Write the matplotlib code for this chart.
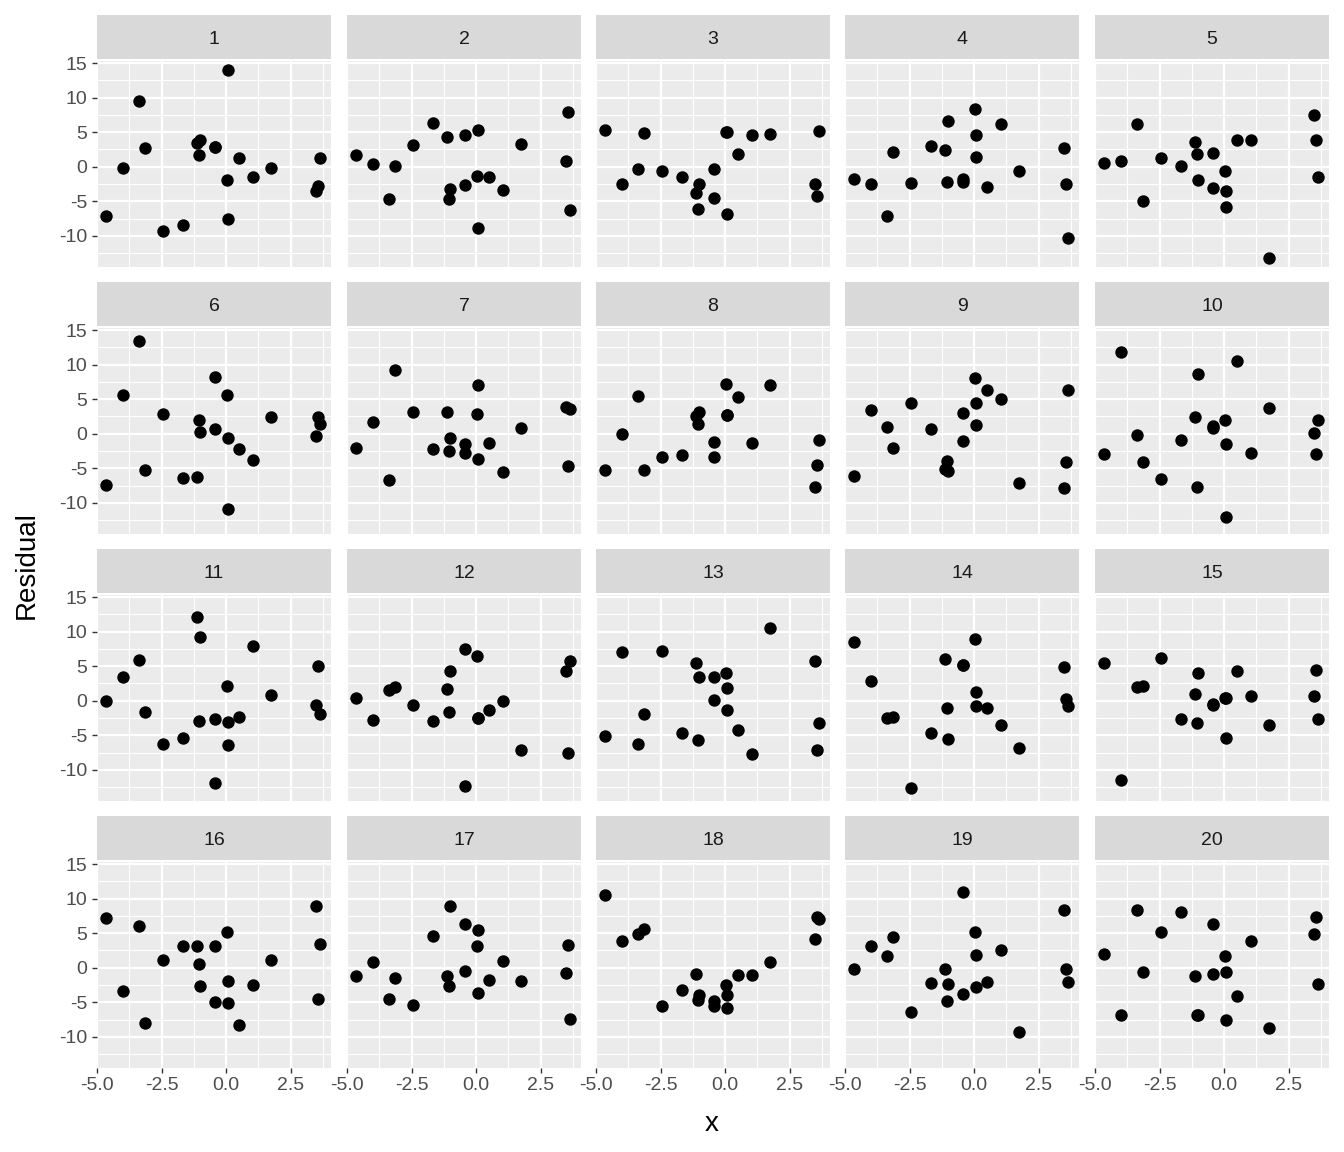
import matplotlib
matplotlib.use("Agg")
import matplotlib.pyplot as plt
import numpy as np

plt.rcParams['font.family'] = ['Liberation Sans', 'DejaVu Sans']

# shared x values (same for every panel)
x = [-4.65, -3.98, -3.36, -3.15, -2.45, -1.67, -1.11, -1.07, -1.0, -0.44,
     -0.42, 0.04, 0.06, 0.09, 0.5, 1.04, 1.73, 3.47, 3.57, 3.64]

# residuals for each panel, in the order of x
resid = [
    [-7.16, -0.14, 9.57, 2.74, -9.23, -8.46, 3.51, 1.63, 3.85, 2.93, 2.93, -1.92, -7.55, 13.99, 1.20, -1.54, -0.24, -3.46, -2.74, 1.20],
    [1.73, 0.34, -4.62, 0.10, 3.22, 6.35, 4.28, -4.62, -3.27, 4.66, -2.64, -1.39, 5.29, -8.89, -1.54, -3.41, 3.27, 0.87, 7.98, -6.30],
    [5.38, -2.55, -0.29, 4.95, -0.67, -1.49, -3.75, -6.06, -2.45, -0.34, -4.47, 5.05, 5.05, -6.88, 1.88, 4.62, 4.76, -2.55, -4.18, 5.19],
    [-1.83, -2.55, -7.16, 2.12, -2.36, 3.03, 2.40, -2.21, 6.63, -1.73, -2.16, 8.41, 4.62, 1.39, -2.98, 6.25, -0.67, 2.74, -2.50, -10.29],
    [0.48, 0.82, 6.20, -4.95, 1.25, 0.10, 3.65, 1.88, -1.92, 2.02, -3.13, -0.58, -3.46, -5.77, 3.80, 3.80, -13.13, 7.55, 3.94, -1.49],
    [-7.45, 5.63, 13.37, -5.29, 2.88, -6.44, -6.25, 1.92, 0.19, 8.22, 0.72, 5.58, -0.67, -10.87, -2.26, -3.80, 2.40, -0.38, 2.45, 1.35],
    [-2.02, 1.68, -6.63, 9.18, 3.13, -2.21, 3.13, -2.55, -0.67, -1.44, -2.84, 2.79, 7.02, -3.61, -1.30, -5.48, 0.77, 3.89, -4.66, 3.61],
    [-5.29, -0.05, 5.48, -5.19, -3.32, -3.13, 2.55, 1.35, 3.08, -1.20, -3.37, 7.21, 2.69, 2.69, 5.29, -1.35, 7.02, -7.74, -4.47, -0.87],
    [-6.15, 3.37, 1.01, -2.07, 4.38, 0.63, -5.05, -3.94, -5.43, 3.03, -1.01, 8.13, 4.38, 1.20, 6.35, 5.10, -7.07, -7.84, -4.04, 6.30],
    [-2.93, 11.88, -0.24, -4.13, -6.54, -0.87, 2.36, -7.69, 8.61, 0.80, 1.10, 1.97, -1.49, -12.07, 10.58, -2.79, 3.75, 0.05, -2.93, 1.97],
    [0.0, 3.37, 5.87, -1.63, -6.20, -5.34, 12.16, -2.88, 9.18, -2.60, -11.83, 2.07, -3.13, -6.39, -2.36, 7.93, 0.77, -0.67, 5.0, -1.97],
    [0.43, -2.84, 1.49, 2.02, -0.58, -2.98, 1.73, -1.59, 4.28, 7.50, -12.36, 6.44, -2.55, -2.55, -1.39, 0.0, -7.16, 4.28, -7.50, 5.82],
    [-5.05, 7.02, -6.20, -1.88, 7.26, -4.71, 5.48, -5.67, 3.41, 3.41, 0.10, 4.04, 1.88, -1.39, -4.23, -7.64, 10.53, 5.77, -7.12, -3.27],
    [8.46, 2.93, -2.50, -2.31, -12.64, -4.62, 6.01, -1.01, -5.53, 5.24, 5.24, 8.94, 1.20, -0.82, -1.11, -3.56, -6.78, 4.90, 0.29, -0.72],
    [5.43, -11.39, 1.97, 2.12, 6.15, -2.60, 1.01, -3.17, 3.99, -0.43, -0.60, 0.38, 0.38, -5.38, 4.28, 0.63, -3.56, 0.63, 4.38, -2.69],
    [7.16, -3.41, 6.01, -8.03, 1.06, 3.13, 3.13, 0.58, -2.60, 3.13, -5.0, 5.14, -1.88, -5.14, -8.27, -2.55, 1.15, 8.89, -4.47, 3.41],
    [-1.20, 0.87, -4.47, -1.44, -5.34, 4.62, -1.25, -2.69, 8.94, 6.39, -0.43, 3.22, 5.43, -3.61, -1.78, 0.91, -1.92, -0.77, 3.27, -7.40],
    [10.53, 3.85, 4.86, 5.63, -5.48, -3.27, -0.87, -4.66, -3.99, -4.86, -5.58, -2.45, -3.89, -5.87, -1.11, -1.01, 0.82, 4.09, 7.40, 7.02],
    [-0.14, 3.13, 1.63, 4.42, -6.35, -2.21, -0.14, -4.81, -2.36, 10.91, -3.80, 5.14, 1.83, -2.79, -2.07, 2.50, -9.23, 8.41, -0.24, -2.12],
    [1.97, -6.83, 8.41, -0.63, 5.19, 8.13, -1.20, -6.78, -6.78, 6.35, -0.87, 1.73, -0.63, -7.55, -4.09, 3.80, -8.70, 4.90, 7.31, -2.40],
]

xticks = [-5.0, -2.5, 0.0, 2.5]
xlabels = ['-5.0', '-2.5', '0.0', '2.5']
yticks = [-10, -5, 0, 5, 10, 15]

W, H = 1344, 1152
fig = plt.figure(figsize=(W / 100, H / 100), dpi=100)

col_left = [97, 347, 596, 845, 1095]
row_top = [61, 328, 595, 862]
pw, ph = 234, 206
strip_h = 44

for i in range(20):
    r, c = divmod(i, 5)
    L, T = col_left[c], row_top[r]
    ax = fig.add_axes([L / W, 1 - (T + ph) / H, pw / W, ph / H])
    ax.set_facecolor('#EBEBEB')
    ax.set_xlim(-5.0, 4.06)
    ax.set_ylim(-14.5, 15.3)
    ax.set_xticks(xticks)
    ax.set_yticks(yticks)
    ax.set_xticks([-3.75, -1.25, 1.25, 3.75], minor=True)
    ax.set_yticks([-12.5, -7.5, -2.5, 2.5, 7.5, 12.5], minor=True)
    ax.grid(which='major', color='white', lw=1.6)
    ax.grid(which='minor', color='white', lw=0.8)
    ax.set_axisbelow(True)
    for s in ax.spines.values():
        s.set_visible(False)
    ax.tick_params(which='minor', length=0)
    ax.tick_params(which='major', length=3.8, width=1.0, color='#333333',
                   labelcolor='#4D4D4D', labelsize=14, pad=3)
    if r == 3:
        ax.set_xticklabels(xlabels)
    else:
        ax.tick_params(axis='x', which='major', length=0, labelbottom=False)
    if c == 0:
        ax.set_yticklabels([str(v) for v in yticks])
    else:
        ax.tick_params(axis='y', which='major', length=0, labelleft=False)
    ax.scatter(x, resid[i], s=80, color='black', linewidths=0, zorder=3)

    sax = fig.add_axes([L / W, 1 - (T - 2) / H, pw / W, strip_h / H])
    sax.set_facecolor('#D9D9D9')
    sax.set_xticks([])
    sax.set_yticks([])
    for s in sax.spines.values():
        s.set_visible(False)
    sax.text(0.5, 0.45, str(i + 1), ha='center', va='center',
             fontsize=14, color='#1A1A1A', transform=sax.transAxes)

fig.text(712 / W, 1 - 1124 / H, 'x', ha='center', va='center', fontsize=20)
fig.text(27 / W, 1 - 565 / H, 'Residual', ha='center', va='center',
         rotation=90, fontsize=20)

fig.savefig('out.png', dpi=100, facecolor='white')
